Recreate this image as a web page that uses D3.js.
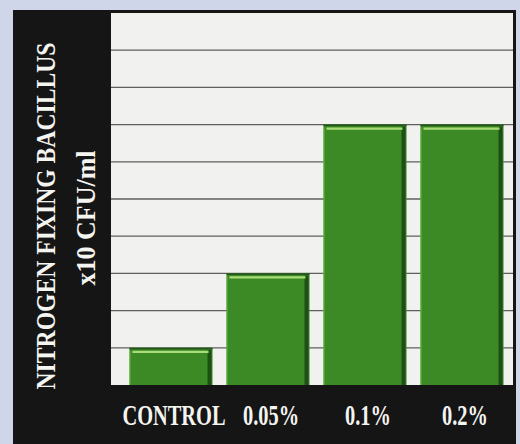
<!DOCTYPE html>
<html>
<head>
<meta charset="utf-8">
<script src="https://cdn.jsdelivr.net/npm/d3@7"></script>
<style>
  body { margin: 0; background: #cfd6ea; }
  svg { display: block; }
  .lbl { font-family: "Liberation Serif", "Times New Roman", serif; font-weight: bold; fill: #f4f4f0; }
</style>
</head>
<body>
<div id="chart"></div>
<script>
// data
var categories = ["CONTROL", "0.05%", "0.1%", "0.2%"];
var values = [1, 3, 7, 7];
var yMax = 10;
var titleLines = ["NITROGEN FIXING BACILLUS", "x10 CFU/ml"];

var svgWidth = 520;
var svgHeight = 444;

var plot = { left: 111, right: 513, top: 13, bottom: 385 };

var svg = d3.select("#chart")
  .append("svg")
  .attr("width", svgWidth)
  .attr("height", svgHeight);

// black frame behind everything
svg.append("rect")
  .attr("x", 13).attr("y", 10)
  .attr("width", 503).attr("height", svgHeight - 10)
  .attr("fill", "#151515");

// white plot area
svg.append("rect")
  .attr("x", plot.left).attr("y", plot.top)
  .attr("width", plot.right - plot.left).attr("height", plot.bottom - plot.top)
  .attr("fill", "#f1f2ef");

var x = d3.scaleBand()
  .domain(categories)
  .range([122, 511])
  .paddingInner(0.144)
  .paddingOuter(0.077);

var y = d3.scaleLinear()
  .domain([0, yMax])
  .range([plot.bottom, plot.top]);

// grid lines
svg.append("g")
  .selectAll("line")
  .data(y.ticks(10).filter(d => d > 0 && d < yMax))
  .enter().append("line")
  .attr("x1", plot.left).attr("x2", plot.right)
  .attr("y1", d => y(d)).attr("y2", d => y(d))
  .attr("stroke", "#5e5e5e")
  .attr("stroke-width", 1.3);

// bars
var bars = svg.append("g")
  .selectAll("g")
  .data(values)
  .enter().append("g")
  .attr("transform", (d, i) => `translate(${x(categories[i])},0)`);

var bw = x.bandwidth();

bars.append("rect")
  .attr("y", d => y(d))
  .attr("width", bw)
  .attr("height", d => plot.bottom - y(d))
  .attr("fill", "#3c8a25");

// dark right edge
bars.append("rect")
  .attr("x", bw - 5)
  .attr("y", d => y(d) + 2)
  .attr("width", 4)
  .attr("height", d => plot.bottom - y(d) - 2)
  .attr("fill", "#1e4f17");

// thin light left edge
bars.append("line")
  .attr("x1", 0.5).attr("x2", 0.5)
  .attr("y1", d => y(d) + 3).attr("y2", plot.bottom)
  .attr("stroke", "#6fb84a")
  .attr("stroke-width", 1);

// dark top border
bars.append("line")
  .attr("x1", 0).attr("x2", bw)
  .attr("y1", d => y(d) + 0.8).attr("y2", d => y(d) + 0.8)
  .attr("stroke", "#24591b")
  .attr("stroke-width", 1.8);

// light highlight under the top
bars.append("line")
  .attr("x1", 3).attr("x2", bw - 4)
  .attr("y1", d => y(d) + 4).attr("y2", d => y(d) + 4)
  .attr("stroke", "#a9dc78")
  .attr("stroke-width", 2.2);

// category labels (condensed serif, squeezed horizontally)
var xAxis = svg.append("g")
  .attr("transform", `translate(3, 425)`)
  .call(d3.axisBottom(x).tickSize(0).tickPadding(0));
xAxis.select(".domain").remove();
xAxis.selectAll("text")
  .attr("class", "lbl")
  .attr("dy", 0)
  .attr("y", 0)
  .style("font-size", "30px")
  .attr("fill", null)
  .attr("transform", "scale(0.68,1)");

// rotated title, squeezed to fit the left panel
function squeezed(str, cx, cy, len) {
  var t = svg.append("text")
    .attr("class", "lbl")
    .attr("text-anchor", "middle")
    .style("font-size", "27px")
    .text(str);
  var k = len / t.node().getComputedTextLength();
  t.attr("transform", `translate(${cx},${cy}) rotate(-90) scale(${k},1)`);
}
squeezed(titleLines[0], 55, 216, 347);
squeezed(titleLines[1], 95, 218, 135);
</script>
</body>
</html>
